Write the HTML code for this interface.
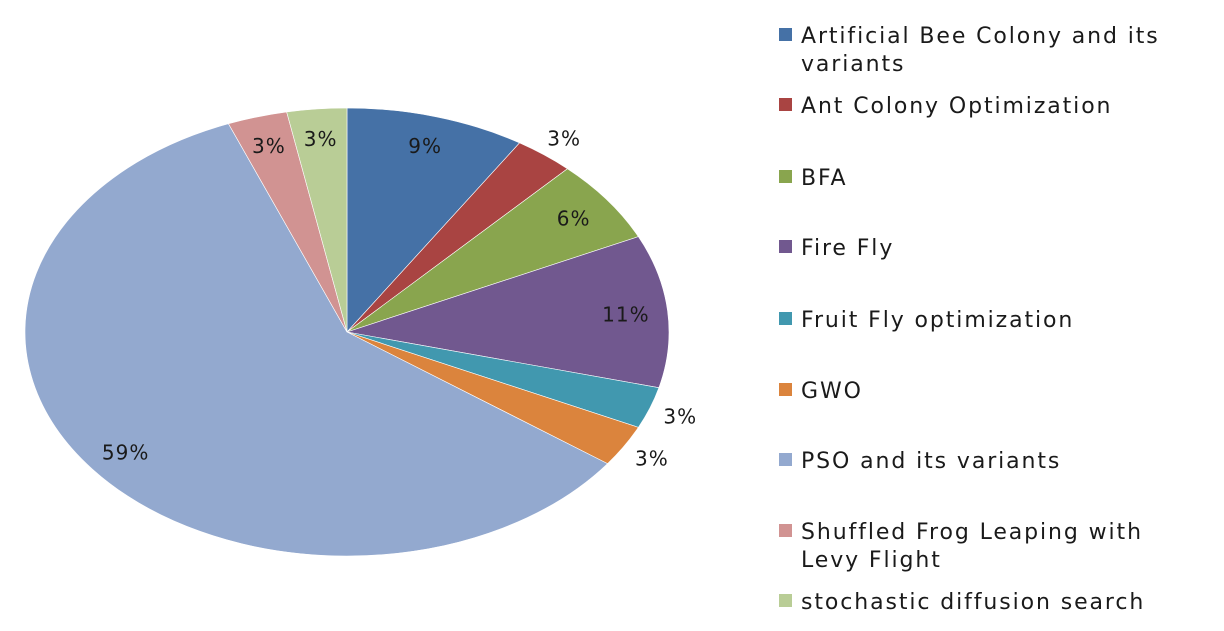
<!DOCTYPE html>
<html><head><meta charset="utf-8"><style>
body{margin:0;background:#fff;width:1224px;height:627px;overflow:hidden;font-family:"DejaVu Sans","Liberation Sans",sans-serif}
</style></head><body>
<svg id="chart" width="1224" height="627" xmlns="http://www.w3.org/2000/svg"></svg>
<script>
const categories=["Artificial Bee Colony and its variants","Ant Colony Optimization","BFA","Fire Fly","Fruit Fly optimization","GWO","PSO and its variants","Shuffled Frog Leaping with Levy Flight","stochastic diffusion search"];
const values=[9,3,6,11,3,3,59,3,3];
const valueLabels=["9%","3%","6%","11%","3%","3%","59%","3%","3%"];
const colors=["#4571a6","#a94442","#89a54e","#71588f","#4198af","#db843d","#93a9cf","#d19392","#b9cd96"];
const legendLines=[["Artificial Bee Colony and its","variants"],["Ant Colony Optimization"],["BFA"],["Fire Fly"],["Fruit Fly optimization"],["GWO"],["PSO and its variants"],["Shuffled Frog Leaping with","Levy Flight"],["stochastic diffusion search"]];
const legendY=[35,105,177,247,319,390,460,531,601];
const NS="http://www.w3.org/2000/svg";
const svg=document.getElementById('chart');
const cx=347,cy=332,rx=322,ry=224;
const total=values.reduce((a,b)=>a+b,0);
function pt(frac,f){const a=frac*2*Math.PI;return [cx+f*rx*Math.sin(a),cy-f*ry*Math.cos(a)];}
let acc=0;
values.forEach((v,i)=>{
  const s=acc/total,e=(acc+v)/total;acc+=v;
  const p0=pt(s,1),p1=pt(e,1);
  const large=(e-s)>0.5?1:0;
  const path=document.createElementNS(NS,'path');
  path.setAttribute('d',`M${cx},${cy} L${p0[0]},${p0[1]} A${rx},${ry} 0 ${large} 1 ${p1[0]},${p1[1]} Z`);
  path.setAttribute('fill',colors[i]);
  path.setAttribute('stroke','#ffffff');
  path.setAttribute('stroke-width','0.6');
  
  
  svg.appendChild(path);
  const outside=(v<=3&&i>=1&&i<=5);
  const lp=pt((s+e)/2,outside?1.1:0.87);
  const t=document.createElementNS(NS,'text');
  t.setAttribute('x',lp[0]);t.setAttribute('y',lp[1]+8);
  t.setAttribute('text-anchor','middle');
  t.setAttribute('font-size','20');t.setAttribute('letter-spacing','1');t.setAttribute('fill','#1a1a1a');
  t.textContent=valueLabels[i];
  
  
  svg.appendChild(t);
});
categories.forEach((c,i)=>{
  const g=document.createElementNS(NS,'g');
  
  
  const r=document.createElementNS(NS,'rect');
  r.setAttribute('x',779);r.setAttribute('y',legendY[i]-7);r.setAttribute('width',13);r.setAttribute('height',13);
  r.setAttribute('fill',colors[i]);
  
  
  g.appendChild(r);
  legendLines[i].forEach((ln,j)=>{
    const t=document.createElementNS(NS,'text');
    t.setAttribute('x',801);t.setAttribute('y',legendY[i]+8+j*28);
    t.setAttribute('font-size','22');t.setAttribute('fill','#1a1a1a');
    t.setAttribute('letter-spacing','1.9');
    t.textContent=ln;
    
    
    g.appendChild(t);
  });
  svg.appendChild(g);
});
</script>
</body></html>
